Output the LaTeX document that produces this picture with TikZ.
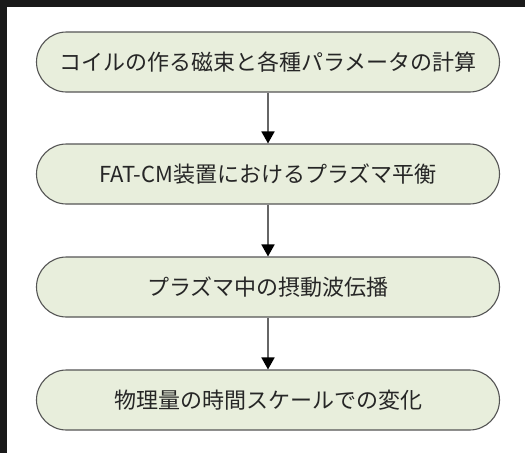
\documentclass[tikz,border=0pt]{standalone}
\usepackage{fontspec}
\setmainfont{Noto Sans CJK JP}
\usetikzlibrary{arrows.meta}
\definecolor{frame}{HTML}{1A1A1A}
\definecolor{boxfill}{HTML}{E8EEDC}
\definecolor{boxline}{HTML}{555555}
\definecolor{arrowline}{HTML}{666666}
\definecolor{txt}{HTML}{262626}
\tikzset{
  stepbox/.style={draw=boxline, line width=1.1pt, fill=boxfill, rounded corners=30pt,
    minimum width=463pt, minimum height=60pt, inner sep=0pt,
    font=\fontsize{22pt}{26pt}\selectfont, text=txt},
  flow/.style={draw=arrowline, line width=1.8pt, -{Triangle[length=12pt,width=13pt,color=black]}}
}
\begin{document}
\begin{tikzpicture}[x=1pt,y=-1pt]
\useasboundingbox (0,0) rectangle (525,453);
\fill[frame] (0,0) rectangle (525,453);
\fill[white] (7,7) rectangle (525,453);
\node[stepbox] (s1) at (268,62) {コイルの作る磁束と各種パラメータの計算};
\node[stepbox] (s2) at (268,174) {FAT-CM装置におけるプラズマ平衡};
\node[stepbox] (s3) at (268,287) {プラズマ中の摂動波伝播};
\node[stepbox] (s4) at (268,400) {物理量の時間スケールでの変化};
\draw[flow] (s1) -- (s2);
\draw[flow] (s2) -- (s3);
\draw[flow] (s3) -- (s4);
\end{tikzpicture}
\end{document}
